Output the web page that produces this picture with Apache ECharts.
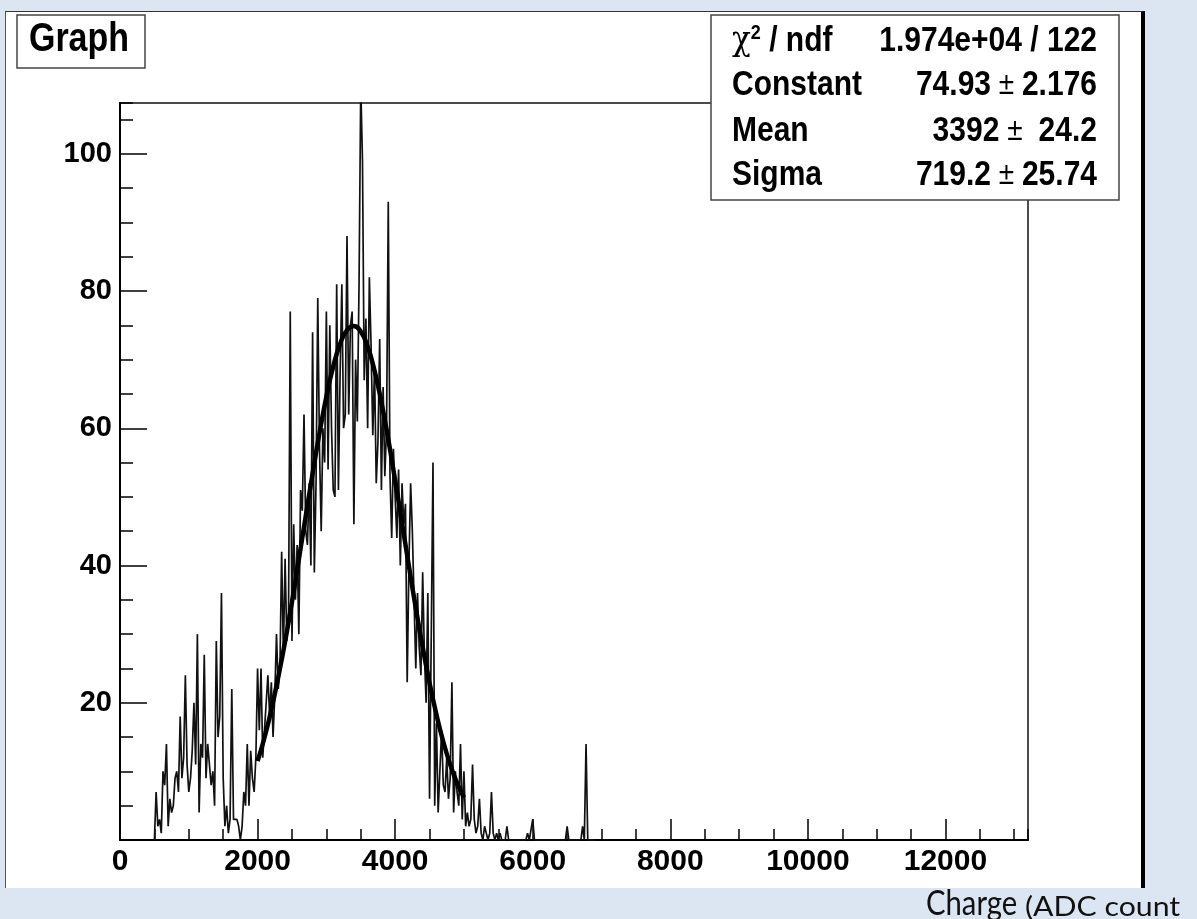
<!DOCTYPE html>
<html>
<head>
<meta charset="utf-8">
<script src="https://cdn.jsdelivr.net/npm/echarts@6/dist/echarts.min.js"></script>
<style>
  html, body { margin: 0; padding: 0; background: #dce6f2; }
  #canvasBg {
    position: absolute; left: 5px; top: 11px; width: 1140px; height: 877px;
    box-sizing: border-box; background: #ffffff;
    border-left: 1px solid #555; border-top: 1px solid #333; border-right: 4px solid #000;
  }
  #chart { position: absolute; left: 0; top: 0; width: 1197px; height: 919px; }
</style>
</head>
<body>
<div id="canvasBg"></div>
<div id="chart"></div>
<script>
// ---- data ----
const adc = [
  500,525,550,575, 600,625,650,675, 700,725,750,775, 800,825,850,875, 900,925,950,975,
  1000,1025,1050,1075, 1100,1125,1150,1175, 1200,1225,1250,1275, 1300,1325,1350,1375, 1400,1425,1450,1475,
  1500,1525,1550,1575, 1600,1625,1650,1675, 1700,1725,1750,1775, 1800,1825,1850,1875, 1900,1925,1950,1975,
  2000,2025,2050,2075, 2100,2125,2150,2175, 2200,2225,2250,2275, 2300,2325,2350,2375, 2400,2425,2450,2475,
  2500,2525,2550,2575, 2600,2625,2650,2675, 2700,2725,2750,2775, 2800,2825,2850,2875, 2900,2925,2950,2975,
  3000,3025,3050,3075, 3100,3125,3150,3175, 3200,3225,3250,3275, 3300,3325,3350,3375, 3400,3425,3450,3475,
  3500,3525,3550,3575, 3600,3625,3650,3675, 3700,3725,3750,3775, 3800,3825,3850,3875, 3900,3925,3950,3975,
  4000,4025,4050,4075, 4100,4125,4150,4175, 4200,4225,4250,4275, 4300,4325,4350,4375, 4400,4425,4450,4475,
  4500,4525,4550,4575, 4600,4625,4650,4675, 4700,4725,4750,4775, 4800,4825,4850,4875, 4900,4925,4950,4975,
  5000,5025,5050,5075, 5100,5125,5150,5175, 5200,5225,5250,5275, 5300,5325,5350,5375, 5400,5425,5450,5475,
  5500,5525,5550,5575, 5600,5625,5650,5675, 5700,
  5750,5900,5925,5950,5975,6000,6025,6475,6500,6525,6700,6725,6750,6775,6800,6900
];
const counts = [
  0,7,2,3, 1,10,8,14, 2,6,4,5, 9,10,7,18, 9,12,24,11,
  7,9,13,20, 11,30,4,14, 12,27,9,14, 11,8,10,5, 29,15,18,36,
  9,2,5,1, 3,22,3,3, 3,2,0,2, 7,5,14,5, 13,9,7,12,
  25,16,25,12, 12,20,24,18, 23,15,21,30, 22,25,42,27, 41,29,33,77,
  29,46,35,43, 30,51,48,62, 45,43,52,40, 74,39,52,79, 57,45,60,55,
  77,54,75,60, 51,50,81,51, 68,81,60,62, 88,62,75,77, 46,70,61,81,
  110,99,67,76, 60,82,72,59, 69,52,58,73, 51,66,53,60, 93,53,44,57,
  50,44,54,40, 52,46,49,23, 40,52,45,35, 25,36,28,24, 39,27,20,36,
  6,30,55,5, 17,4,10,16, 8,7,12,6, 9,23,4,10, 7,5,14,3,
  10,2,4,2, 3,11,3,1, 2,6,1,0, 2,1,0,1, 7,1,0,1,
  0,1,0,0, 0,2,0,0, 0,
  0,0,1,0,0,3,0,0,2,0,0,2,0,14,0,0
];
// Gaussian fit curve as drawn
const fitAdc = [2000,2100,2200,2300,2400,2500,2600,2700,2800,2900,3000,3100,3200,3300,3400,3500,
  3600,3700,3800,3900,4000,4100,4200,4300,4400,4500,4600,4700,4800,4900,5000];
const fitCounts = [11.5,14.9,19.0,23.7,28.9,34.7,40.9,47.2,53.4,59.3,64.6,69.0,72.3,74.3,74.9,74.1,
  71.9,68.4,63.8,58.4,52.4,46.2,39.9,33.8,28.1,22.9,18.3,14.3,11.0,8.3,6.2];
const statLabels = ['χ² / ndf', 'Constant', 'Mean', 'Sigma'];
const statValues = ['1.974e+04 / 122', '74.93|2.176', '3392| 24.2', '719.2|25.74'];
const titleText = 'Graph';
const xAxisTitle = ['Charge', '(ADC count'];

const FONT = '"Liberation Sans", Arial, Helvetica, sans-serif';
const chart = echarts.init(document.getElementById('chart'), null, {renderer: 'canvas'});

const graphData = adc.map((x, i) => [x, counts[i]]);
const fitData = fitAdc.map((x, i) => [x, fitCounts[i]]);

const rowY = [41, 85, 131, 175];
const statEls = [];
statLabels.forEach((t, i) => {
  statEls.push({
    type: 'text', x: 732, y: rowY[i], scaleY: 1.15, z: 110,
    style: {
      x: 0, y: 0,
      text: i === 0 ? '{chi|χ}{sup|2}{b| / ndf}' : '{b|' + t + '}',
      align: 'left', textAlign: 'left', verticalAlign: 'middle', textVerticalAlign: 'middle',
      fill: '#000',
      rich: {
        b: {font: 'bold 30px ' + FONT, fill: '#000'},
        chi: {font: '31px "DejaVu Serif", serif', fill: '#000'},
        sup: {font: 'bold 18px ' + FONT, fill: '#000', verticalAlign: 'top', padding: [0,0,12,0]}
      }
    }
  });
  const v = statValues[i];
  let rt;
  if (v.indexOf('|') >= 0) {
    const p = v.split('|');
    rt = '{b|' + p[0] + '}{pm| ± }{b|' + p[1] + '}';
  } else {
    rt = '{b|' + v + '}';
  }
  statEls.push({
    type: 'text', x: 1097, y: rowY[i], scaleY: 1.15, z: 110,
    style: {
      x: 0, y: 0, text: rt,
      align: 'right', textAlign: 'right', verticalAlign: 'middle', textVerticalAlign: 'middle',
      fill: '#000',
      rich: {
        b: {font: 'bold 30px ' + FONT, fill: '#000'},
        pm: {font: '28px ' + FONT, fill: '#000'}
      }
    }
  });
});

const option = {
  animation: false,
  backgroundColor: 'transparent',
  grid: {
    left: 120, right: 169, top: 103, bottom: 79,
    show: true, borderColor: '#111', borderWidth: 1.5, backgroundColor: 'transparent',
    containLabel: false, outerBoundsMode: 'none'
  },
  xAxis: [
    {
      type: 'value', min: 0, max: 13200, interval: 2000, position: 'bottom',
      axisLine: {show: true, onZero: false, lineStyle: {color: '#000', width: 2}},
      axisTick: {show: true, inside: true, length: 21, lineStyle: {color: '#000', width: 1.5}},
      axisLabel: {show: true, showMaxLabel: false, fontSize: 30, fontWeight: 'bold', fontFamily: FONT, color: '#000', margin: 7,
        formatter: (v) => String(v)},
      splitLine: {show: false}
    },
    {
      type: 'value', min: 0, max: 13200, interval: 500, position: 'bottom', offset: 0,
      axisLine: {show: false, onZero: false},
      axisTick: {show: true, inside: true, length: 11, lineStyle: {color: '#000', width: 1.5}},
      axisLabel: {show: false},
      splitLine: {show: false}
    }
  ],
  yAxis: [
    {
      type: 'value', min: 0, max: 107.4, interval: 20, position: 'left',
      axisLine: {show: true, onZero: false, lineStyle: {color: '#000', width: 2}},
      axisTick: {show: true, inside: true, length: 27, lineStyle: {color: '#000', width: 1.5}},
      axisLabel: {show: true, showMinLabel: false, showMaxLabel: false, fontSize: 29, fontWeight: 'bold', fontFamily: FONT, color: '#000', margin: 8,
        formatter: (v) => String(v)},
      splitLine: {show: false}
    },
    {
      type: 'value', min: 0, max: 107.4, interval: 5, position: 'left', offset: 0,
      axisLine: {show: false, onZero: false},
      axisTick: {show: true, inside: true, length: 13, lineStyle: {color: '#000', width: 1.5}},
      axisLabel: {show: false},
      splitLine: {show: false}
    }
  ],
  series: [
    {
      name: 'Graph', type: 'line', xAxisIndex: 0, yAxisIndex: 0,
      data: graphData, symbol: 'none', clip: true, z: 3,
      lineStyle: {color: '#111', width: 1.7}
    },
    {
      name: 'Fit', type: 'line', xAxisIndex: 0, yAxisIndex: 0,
      data: fitData, symbol: 'none', smooth: true, clip: true, z: 4,
      lineStyle: {color: '#000', width: 4.5}
    }
  ],
  graphic: {
    elements: [
      {
        type: 'rect', z: 100,
        shape: {x: 17, y: 15, width: 128, height: 53},
        style: {fill: '#fff', stroke: '#444', lineWidth: 1.5}
      },
      {
        type: 'text', x: 79, y: 40, scaleY: 1.17, z: 101,
        style: {x: 0, y: 0, text: titleText, font: 'bold 34px ' + FONT, fill: '#000',
          align: 'center', textAlign: 'center', verticalAlign: 'middle', textVerticalAlign: 'middle'}
      },
      {
        type: 'rect', z: 100,
        shape: {x: 711, y: 15, width: 408, height: 185},
        style: {fill: '#fff', stroke: '#444', lineWidth: 1.5}
      },
      ...statEls,
      {
        type: 'text', x: 926, y: 904, scaleX: 0.86, z: 101,
        style: {
          x: 0, y: 0, text: xAxisTitle[0],
          align: 'left', textAlign: 'left', verticalAlign: 'middle', textVerticalAlign: 'middle',
          font: '34px Lato, "Open Sans", sans-serif', fill: '#111'
        }
      },
      {
        type: 'text', x: 1025, y: 907, scaleX: 1.12, z: 101,
        style: {
          x: 0, y: 0, text: xAxisTitle[1],
          align: 'left', textAlign: 'left', verticalAlign: 'middle', textVerticalAlign: 'middle',
          font: '27px Lato, "Open Sans", sans-serif', fill: '#111'
        }
      }
    ]
  }
};
chart.setOption(option);
</script>
</body>
</html>
